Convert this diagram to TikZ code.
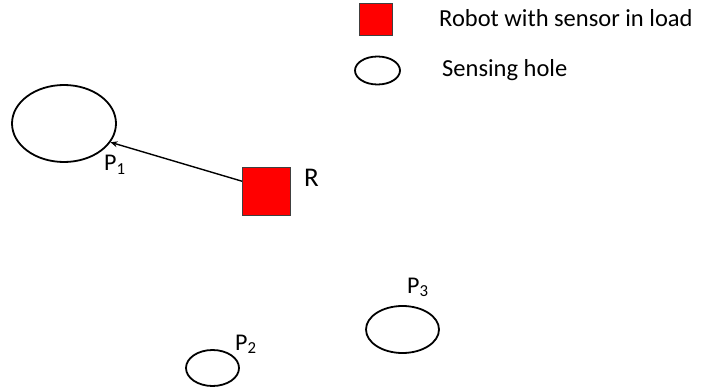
\documentclass[tikz,border=0pt]{standalone}
\usepackage{fontspec}
\setmainfont{Carlito}
\usetikzlibrary{shapes.geometric,arrows.meta,calc}
\begin{document}
\begin{tikzpicture}[x=1pt,y=-1pt,
  hole/.style={draw=black,line width=1.8pt,ellipse,inner sep=0pt,fill=white},
  robot/.style={draw=black!75,line width=0.8pt,fill=red,inner sep=0pt},
  legendtext/.style={font=\fontsize{24.5}{29}\selectfont,anchor=base west,inner sep=0pt},
  ptlabel/.style={font=\fontsize{24}{29}\selectfont,anchor=base west,inner sep=0pt},
  rlabel/.style={font=\fontsize{27}{32}\selectfont,anchor=base west,inner sep=0pt}]
\useasboundingbox (0,0) rectangle (701,390);

% legend
\node[robot,minimum width=33pt,minimum height=32pt] (legrobot) at (375.5,19) {};
\node[legendtext] (legrobottext) at (439,27) {Robot with sensor in load};
\node[hole,minimum width=45pt,minimum height=28pt] (leghole) at (377.5,70.5) {};
\node[legendtext] (legholetext) at (442,77) {Sensing hole};

% sensing holes
\node[hole,minimum width=104pt,minimum height=77pt] (p1) at (64,123.5) {};
\node[hole,minimum width=53pt,minimum height=36pt] (p2) at (212.5,368) {};
\node[hole,minimum width=73pt,minimum height=47pt] (p3) at (402.5,329.5) {};
\node[ptlabel] (p1l) at (104,171) {P\textsubscript{1}};
\node[ptlabel] (p2l) at (235,350) {P\textsubscript{2}};
\node[ptlabel] (p3l) at (407,293) {P\textsubscript{3}};

% robot
\node[robot,minimum width=48pt,minimum height=48pt] (r) at (266.5,191) {};
\node[rlabel] (rl) at (304,187) {R};

\draw[line width=1.4pt,-{Stealth[length=7pt,width=6pt]}]
  ($(r.north west)!0.3!(r.south west)$) -- (p1.-22);
\end{tikzpicture}
\end{document}
